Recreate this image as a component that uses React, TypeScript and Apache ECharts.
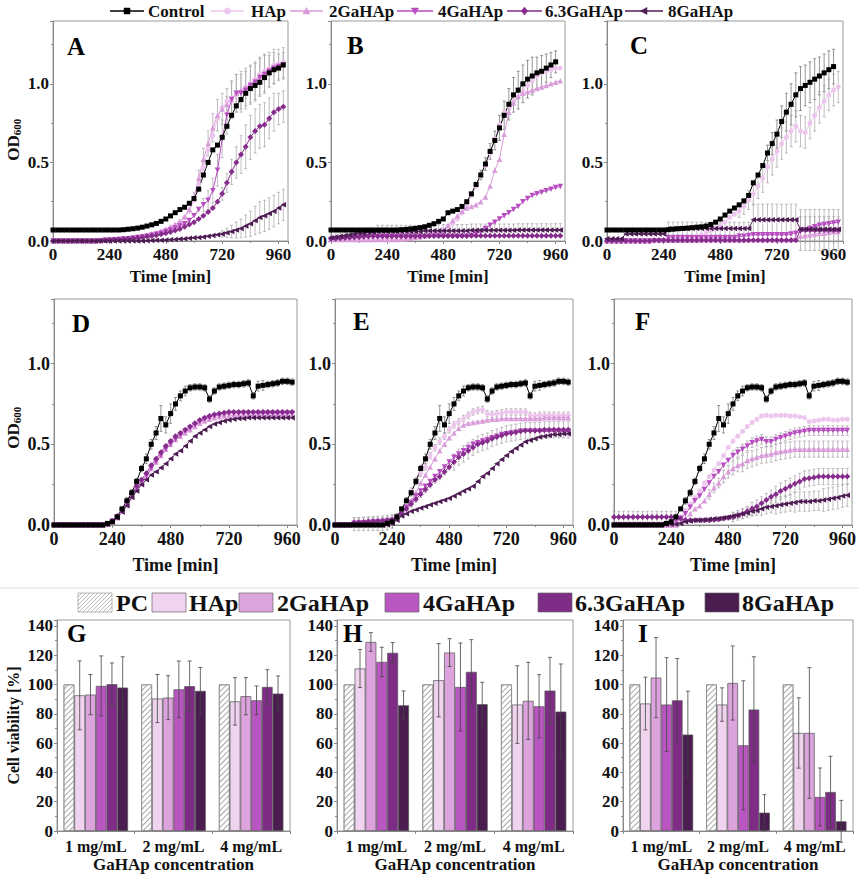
import React, { useEffect, useRef } from "react";
import * as echarts from "echarts";

const FONT = '"Liberation Serif", "Times New Roman", Times, serif';

// ---------------- data ----------------
const times = [0,20,40,60,80,100,120,140,160,180,200,220,240,260,280,300,320,340,360,380,400,420,440,460,480,500,520,540,560,580,600,620,640,660,680,700,720,740,760,780,800,820,840,860,880,900,920,940,960,980];
const timeTicks = [0, 240, 480, 720, 960];
const odTicks = [0, 0.5, 1];
const seriesNames = ["Control", "HAp", "2GaHAp", "4GaHAp", "6.3GaHAp", "8GaHAp"];
const barNames = ["PC", "HAp", "2GaHAp", "4GaHAp", "6.3GaHAp", "8GaHAp"];
const concentrations = ["1 mg/mL", "2 mg/mL", "4 mg/mL"];

// Panel A
const A_ctrl = [0.07,0.07,0.07,0.07,0.07,0.07,0.07,0.07,0.07,0.07, 0.07,0.07,0.07,0.07,0.07,0.072,0.075,0.078,0.082,0.088, 0.095,0.103,0.112,0.125,0.14,0.16,0.18,0.2,0.215,0.24, 0.27,0.33,0.42,0.5,0.58,0.61,0.66,0.73,0.8,0.86, 0.9,0.94,0.97,0.99,1.01,1.04,1.07,1.09,1.1,1.12];
const A_hap = [0,0,0,0,0,0,0,0,0,0, 0.002,0.004,0.006,0.008,0.01,0.012,0.015,0.02,0.025,0.03, 0.035,0.042,0.05,0.06,0.07,0.085,0.1,0.12,0.15,0.19, 0.26,0.36,0.47,0.58,0.67,0.78,0.85,0.89,0.91,0.93, 0.95,0.98,1.0,1.03,1.06,1.08,1.1,1.12,1.13,1.14];
const A_2ga = [0,0,0,0,0,0,0,0,0,0, 0.003,0.005,0.007,0.01,0.012,0.015,0.018,0.022,0.027,0.032, 0.038,0.045,0.053,0.063,0.075,0.09,0.105,0.125,0.155,0.2, 0.28,0.4,0.52,0.62,0.72,0.8,0.84,0.87,0.9,0.94, 0.96,0.98,1.0,1.02,1.05,1.07,1.09,1.11,1.12,1.13];
const A_4ga = [0,0,0,0,0,0,0,0,0,0, 0.002,0.004,0.006,0.008,0.01,0.012,0.015,0.018,0.022,0.026, 0.03,0.036,0.043,0.05,0.06,0.07,0.082,0.095,0.11,0.13, 0.16,0.2,0.23,0.26,0.32,0.45,0.65,0.8,0.9,0.94, 0.94,0.96,0.99,1.01,1.04,1.06,1.08,1.1,1.11,1.12];
const A_63 = [0,0,0,0,0,0,0,0,0,0, 0.002,0.004,0.006,0.008,0.01,0.012,0.014,0.017,0.02,0.024, 0.028,0.032,0.037,0.043,0.05,0.058,0.067,0.077,0.09,0.105, 0.12,0.14,0.16,0.185,0.21,0.25,0.3,0.37,0.44,0.5, 0.55,0.6,0.66,0.7,0.73,0.74,0.78,0.82,0.84,0.855];
const A_8 = [0,0,0,0,0,0,0,0,0,0, 0,0,0,0,0,0,0,0,0,0, 0.002,0.003,0.004,0.005,0.006,0.008,0.01,0.012,0.014,0.017, 0.02,0.022,0.025,0.03,0.035,0.04,0.045,0.052,0.06,0.07, 0.08,0.095,0.11,0.13,0.15,0.16,0.175,0.19,0.21,0.23];
const A_2ga_err = [0,0,0,0,0,0,0,0,0,0, 0,0,0,0,0,0,0,0,0,0, 0,0,0,0,0,0,0,0,0,0, 0.03,0.05,0.07,0.08,0.09,0.1,0.1,0.1,0.11,0.12, 0.12,0.12,0.12,0.12,0.12,0.12,0.11,0.11,0.1,0.1];
const A_4ga_err = [0,0,0,0,0,0,0,0,0,0, 0,0,0,0,0,0,0,0,0,0, 0,0,0,0,0,0,0,0,0,0, 0,0,0.04,0.06,0.08,0.1,0.12,0.12,0.12,0.12, 0.12,0.12,0.12,0.12,0.12,0.12,0.1,0.1,0.08,0.08];
const A_63_err = [0,0,0,0,0,0,0,0,0,0, 0,0,0,0,0,0,0,0,0,0, 0,0,0,0,0,0,0,0,0,0, 0,0,0,0,0,0,0.04,0.06,0.08,0.1, 0.12,0.14,0.14,0.14,0.14,0.14,0.13,0.12,0.1,0.1];
const A_8_err = [0,0,0,0,0,0,0,0,0,0, 0,0,0,0,0,0,0,0,0,0, 0,0,0,0,0,0,0,0,0,0, 0,0,0,0,0,0,0.02,0.03,0.04,0.05, 0.06,0.07,0.08,0.09,0.1,0.1,0.1,0.1,0.1,0.1];

// Panel B
const B_ctrl = [0.07,0.07,0.07,0.07,0.07,0.07,0.07,0.07,0.07,0.07, 0.07,0.07,0.07,0.07,0.07,0.072,0.074,0.077,0.08,0.085, 0.09,0.1,0.11,0.125,0.14,0.18,0.19,0.2,0.22,0.25, 0.3,0.36,0.42,0.49,0.57,0.64,0.72,0.8,0.87,0.93, 0.96,1.0,1.03,1.05,1.07,1.08,1.1,1.12,1.14,null];
const B_hap = [0.01,0.01,0.01,0.01,0.01,0.01,0.01,0.01,0.01,0.01, 0.01,0.01,0.01,0.01,0.01,0.012,0.014,0.016,0.02,0.025, 0.03,0.04,0.05,0.06,0.075,0.09,0.11,0.14,0.18,0.23, 0.29,0.35,0.41,0.48,0.56,0.65,0.74,0.82,0.86,0.89, 0.92,0.95,0.99,1.02,1.05,1.07,1.08,1.09,1.1,1.1];
const B_2ga = [0.01,0.01,0.01,0.01,0.01,0.01,0.01,0.01,0.01,0.01, 0.01,0.01,0.01,0.01,0.01,0.012,0.015,0.018,0.022,0.027, 0.033,0.04,0.048,0.055,0.065,0.1,0.13,0.16,0.19,0.21, 0.22,0.23,0.25,0.28,0.35,0.45,0.52,0.68,0.82,0.88, 0.92,0.94,0.95,0.96,0.97,0.98,0.99,1.0,1.01,1.02];
const B_4ga = [0.01,0.012,0.015,0.018,0.02,0.022,0.024,0.026,0.028,0.03, 0.03,0.03,0.03,0.03,0.03,0.03,0.03,0.03,0.03,0.03, 0.03,0.03,0.03,0.03,0.03,0.03,0.03,0.03,0.03,0.03, 0.035,0.045,0.06,0.08,0.1,0.12,0.14,0.16,0.18,0.2, 0.22,0.25,0.27,0.29,0.3,0.31,0.32,0.33,0.34,0.347];
const B_63 = [0.015,0.016,0.018,0.02,0.022,0.024,0.026,0.028,0.03,0.03, 0.03,0.03,0.03,0.03,0.03,0.03,0.03,0.03,0.03,0.03, 0.032,0.032,0.032,0.032,0.032,0.032,0.032,0.032,0.032,0.032, 0.033,0.033,0.033,0.033,0.033,0.033,0.033,0.033,0.033,0.033, 0.034,0.034,0.034,0.034,0.034,0.034,0.034,0.034,0.034,0.034];
const B_8 = [0.02,0.025,0.03,0.035,0.04,0.045,0.05,0.05,0.055,0.055, 0.06,0.06,0.06,0.06,0.06,0.06,0.06,0.06,0.06,0.06, 0.065,0.065,0.065,0.065,0.065,0.065,0.065,0.065,0.065,0.065, 0.068,0.068,0.068,0.068,0.068,0.068,0.068,0.068,0.068,0.068, 0.07,0.07,0.07,0.07,0.07,0.07,0.07,0.07,0.07,0.07];
const B_ctrl_err = [0,0,0,0,0,0,0,0,0,0, 0,0,0,0,0,0,0,0,0,0, 0,0,0,0,0,0,0,0,0,0, 0,0,0.03,0.04,0.05,0.06,0.08,0.09,0.1,0.11, 0.12,0.12,0.12,0.12,0.1,0.1,0.09,0.08,0.07,0];
const B_8_err = [0.02,0.02,0.02,0.02,0.02,0.02,0.02,0.02,0.02,0.02, 0.04,0.04,0.04,0.04,0.04,0.04,0.04,0.04,0.04,0.04, 0.04,0.04,0.04,0.04,0.04,0.04,0.04,0.04,0.04,0.04, 0.04,0.04,0.04,0.04,0.04,0.04,0.04,0.04,0.04,0.04, 0.04,0.04,0.04,0.04,0.04,0.04,0.04,0.04,0.04,0.04];

// Panel C
const C_ctrl = [0.07,0.07,0.07,0.07,0.07,0.07,0.07,0.07,0.07,0.07, 0.07,0.07,0.07,0.072,0.075,0.078,0.08,0.082,0.085,0.088, 0.09,0.095,0.105,0.12,0.14,0.165,0.19,0.21,0.23,0.255, 0.29,0.37,0.42,0.48,0.56,0.62,0.68,0.76,0.82,0.87, 0.93,0.97,0.99,1.01,1.03,1.05,1.07,1.09,1.11,null];
const C_hap = [0,0,0,0,0,0,0,0,0,0, 0.005,0.006,0.008,0.01,0.012,0.015,0.018,0.022,0.026,0.03, 0.04,0.05,0.065,0.08,0.1,0.12,0.15,0.17,0.19,0.22, 0.26,0.3,0.35,0.4,0.47,0.52,0.57,0.62,0.66,0.7, 0.73,0.7,0.69,0.75,0.8,0.85,0.89,0.93,0.96,0.98];
const C_2ga = [0,0,0,0,0,0,0,0,0,0, 0.005,0.005,0.005,0.005,0.005,0.005,0.005,0.005,0.005,0.005, 0.008,0.008,0.008,0.008,0.008,0.008,0.008,0.008,0.008,0.008, 0.01,0.01,0.01,0.01,0.01,0.01,0.01,0.01,0.01,0.01, 0.02,0.03,0.035,0.04,0.045,0.05,0.05,0.055,0.06,0.06];
const C_4ga = [0,0,0,0,0,0,0,0,0,0, 0,0,0,0.02,0.02,0.02,0.02,0.02,0.02,0.02, 0.02,0.02,0.02,0.02,0.02,0.02,0.02,0.02,0.03,0.03, 0.035,0.04,0.04,0.04,0.04,0.04,0.04,0.04,0.04,0.045, 0.05,0.06,0.07,0.08,0.09,0.1,0.105,0.11,0.115,0.12];
const C_63 = [0,0,0,0,0,0,0,0,0,0, 0.005,0.005,0.005,0.005,0.005,0.005,0.005,0.005,0.005,0.005, 0.005,0.005,0.005,0.005,0.005,0.005,0.005,0.005,0.005,0.005, 0.005,0.005,0.005,0.005,0.005,0.005,0.005,0.005,0.005,0.005, 0.005,0.07,0.07,0.07,0.07,0.07,0.07,0.07,0.07,0.07];
const C_8 = [0.015,0.015,0.015,0.015,0.045,0.045,0.045,0.045,0.045,0.045, 0.045,0.045,0.045,0.08,0.08,0.08,0.08,0.08,0.08,0.08, 0.08,0.08,0.08,0.08,0.08,0.08,0.08,0.08,0.08,0.08, 0.08,0.135,0.135,0.135,0.135,0.135,0.135,0.135,0.135,0.135, 0.135,0.075,0.075,0.075,0.075,0.075,0.075,0.075,0.075,0.075];
const C_ctrl_err = [0,0,0,0,0,0,0,0,0,0, 0,0,0,0,0,0,0,0,0,0, 0,0,0,0,0,0,0,0,0,0, 0,0,0,0,0.05,0.07,0.09,0.1,0.12,0.13, 0.14,0.14,0.13,0.13,0.13,0.12,0.12,0.12,0.11,0];
const C_hap_err = [0,0,0,0,0,0,0,0,0,0, 0,0,0,0,0,0,0,0,0,0, 0,0,0,0,0,0,0,0,0.04,0.05, 0.06,0.07,0.08,0.09,0.1,0.1,0.1,0.1,0.1,0.1, 0.1,0.1,0.1,0.1,0.1,0.1,0.1,0.1,0.1,0.1];
const C_63_err = [0,0,0,0,0,0,0,0,0,0, 0,0,0,0,0,0,0,0,0,0, 0,0,0,0,0,0,0,0,0,0, 0,0,0,0,0,0,0,0,0,0, 0,0.13,0.13,0.13,0.13,0.13,0.13,0.13,0.13,0.13];
const C_8_err = [0,0,0,0,0,0,0,0,0,0, 0,0,0,0.04,0.04,0.04,0.04,0.04,0.04,0.04, 0.04,0.04,0.04,0.04,0.04,0.04,0.04,0.04,0.04,0.04, 0.04,0.1,0.1,0.1,0.1,0.1,0.1,0.1,0.1,0.1, 0.1,0.08,0.08,0.08,0.08,0.08,0.08,0.08,0.08,0.08];

// Panels D, E, F share the same control curve
const ctrlDEF = [0,0,0,0,0,0,0,0,0,0, 0,0.01,0.02,0.05,0.1,0.15,0.2,0.27,0.35,0.41, 0.5,0.57,0.66,0.62,0.69,0.75,0.8,0.83,0.85,0.855, 0.855,0.85,0.78,0.83,0.855,0.86,0.865,0.87,0.87,0.875, 0.88,0.8,0.86,0.865,0.87,0.875,0.88,0.89,0.89,0.885];
const ctrlDEF_err = [0,0,0,0,0,0,0,0,0,0, 0,0,0.01,0.01,0.01,0.02,0.02,0.02,0.02,0.03, 0.03,0.04,0.08,0.05,0.06,0.04,0.03,0.03,0.02,0.02, 0.02,0.02,0.02,0.02,0.02,0.02,0.02,0.02,0.02,0.02, 0.02,0.02,0.03,0.03,0.02,0.02,0.02,0.02,0.02,0.02];

// Panel D
const D_hap = [0,0,0,0,0,0,0,0,0,0, 0,0.005,0.025,0.05,0.09,0.14,0.19,0.23,0.27,0.31, 0.36,0.4,0.44,0.48,0.51,0.54,0.56,0.58,0.6,0.62, 0.64,0.66,0.67,0.68,0.69,0.69,0.695,0.695,0.695,0.695, 0.695,0.695,0.7,0.7,0.7,0.7,0.7,0.7,0.7,0.7];
const D_2ga = [0,0,0,0,0,0,0,0,0,0, 0,0.005,0.02,0.045,0.085,0.13,0.18,0.22,0.26,0.3, 0.35,0.39,0.43,0.47,0.5,0.53,0.55,0.57,0.59,0.61, 0.63,0.645,0.655,0.665,0.67,0.675,0.675,0.68,0.68,0.68, 0.68,0.68,0.68,0.68,0.68,0.68,0.68,0.68,0.68,0.68];
const D_4ga = [0,0,0,0,0,0,0,0,0,0, 0,0.005,0.025,0.05,0.09,0.135,0.185,0.225,0.265,0.305, 0.35,0.39,0.43,0.47,0.5,0.53,0.555,0.58,0.6,0.62, 0.64,0.655,0.665,0.675,0.68,0.685,0.69,0.69,0.69,0.69, 0.69,0.69,0.69,0.69,0.69,0.69,0.69,0.69,0.69,0.69];
const D_63 = [0,0,0,0,0,0,0,0,0,0, 0,0.005,0.025,0.055,0.095,0.145,0.195,0.24,0.28,0.32, 0.37,0.41,0.45,0.49,0.52,0.55,0.57,0.59,0.61,0.63, 0.65,0.665,0.675,0.685,0.69,0.695,0.7,0.7,0.7,0.7, 0.7,0.7,0.7,0.7,0.7,0.7,0.7,0.7,0.7,0.7];
const D_8 = [0,0,0,0,0,0,0,0,0,0, 0,0.005,0.02,0.045,0.08,0.12,0.17,0.21,0.25,0.28, 0.31,0.33,0.355,0.38,0.41,0.44,0.46,0.49,0.52,0.55, 0.57,0.59,0.61,0.625,0.635,0.645,0.65,0.655,0.66,0.66, 0.665,0.665,0.665,0.665,0.665,0.665,0.665,0.665,0.665,0.665];

// Panel E
const E_hap = [0,0,0,0,0.005,0.005,0.005,0.005,0.005,0.005, 0.005,0.01,0.02,0.05,0.09,0.14,0.21,0.27,0.32,0.36, 0.43,0.48,0.52,0.55,0.59,0.62,0.64,0.66,0.68,0.7, 0.71,0.715,0.69,0.685,0.69,0.695,0.7,0.7,0.7,0.7, 0.7,0.68,0.675,0.68,0.68,0.68,0.68,0.68,0.68,0.68];
const E_2ga = [0,0,0,0,0.005,0.005,0.005,0.005,0.005,0.005, 0.005,0.01,0.02,0.04,0.07,0.1,0.15,0.2,0.26,0.31, 0.36,0.41,0.46,0.5,0.54,0.57,0.6,0.62,0.63,0.635, 0.64,0.645,0.65,0.655,0.655,0.66,0.66,0.66,0.66,0.66, 0.66,0.66,0.66,0.66,0.665,0.665,0.665,0.665,0.665,0.665];
const E_4ga = [0,0,0,0,0.01,0.012,0.014,0.016,0.018,0.02, 0.022,0.025,0.03,0.05,0.08,0.11,0.14,0.18,0.21,0.24, 0.27,0.3,0.33,0.36,0.39,0.42,0.44,0.46,0.48,0.5, 0.51,0.52,0.53,0.54,0.55,0.56,0.565,0.57,0.575,0.58, 0.58,0.58,0.58,0.58,0.58,0.58,0.58,0.58,0.58,0.58];
const E_63 = [0,0,0,0,0.015,0.017,0.019,0.021,0.023,0.025, 0.027,0.03,0.033,0.05,0.075,0.1,0.13,0.16,0.19,0.22, 0.25,0.28,0.3,0.33,0.36,0.39,0.42,0.44,0.46,0.48, 0.5,0.51,0.52,0.535,0.545,0.555,0.565,0.57,0.575,0.58, 0.585,0.585,0.585,0.585,0.59,0.59,0.59,0.59,0.59,0.59];
const E_8 = [0,0,0,0,0,0,0,0,0,0, 0,0,0.01,0.03,0.055,0.07,0.085,0.095,0.105,0.115, 0.125,0.135,0.145,0.155,0.165,0.18,0.195,0.21,0.225,0.24, 0.27,0.3,0.32,0.35,0.38,0.405,0.43,0.455,0.475,0.495, 0.515,0.525,0.535,0.545,0.55,0.555,0.56,0.56,0.565,0.565];
const E_hap_err = [0,0,0,0,0.04,0.04,0.04,0.04,0.04,0.04, 0.04,0.04,0.04,0.02,0.02,0.02,0.02,0.02,0.02,0.02, 0.02,0.02,0.02,0.02,0.02,0.02,0.02,0.02,0.02,0.02, 0.02,0.02,0.02,0.02,0.02,0.02,0.02,0.02,0.02,0.02, 0.02,0.02,0.02,0.02,0.02,0.02,0.02,0.02,0.02,0.02];
const E_63_err = [0,0,0,0,0.03,0.03,0.03,0.03,0.03,0.03, 0.03,0.03,0.03,0.02,0.02,0.02,0.02,0.02,0.02,0.02, 0.02,0.02,0.02,0.02,0.02,0.05,0.05,0.05,0.05,0.05, 0.05,0.05,0.05,0.05,0.05,0.05,0.05,0.05,0.05,0.05, 0.05,0.05,0.05,0.05,0.05,0.05,0.05,0.05,0.05,0.05];

// Panel F
const F_hap = [0,0,0,0,0,0,0,0,0,0, 0,0,0.005,0.02,0.05,0.09,0.13,0.17,0.21,0.26, 0.3,0.34,0.38,0.43,0.48,0.52,0.55,0.58,0.61,0.635, 0.655,0.675,0.68,0.675,0.68,0.68,0.68,0.675,0.675,0.67, 0.665,0.64,0.645,0.65,0.655,0.655,0.65,0.65,0.655,0.655];
const F_2ga = [0,0,0,0,0,0,0,0,0,0, 0,0,0,0,0.02,0.04,0.07,0.1,0.12,0.15, 0.19,0.23,0.26,0.3,0.33,0.35,0.37,0.38,0.4,0.41, 0.42,0.43,0.435,0.44,0.45,0.455,0.46,0.465,0.47,0.47, 0.47,0.47,0.47,0.47,0.47,0.47,0.47,0.47,0.47,0.47];
const F_4ga = [0,0,0,0,0,0,0,0,0,0, 0,0,0.005,0.02,0.04,0.07,0.11,0.15,0.18,0.22, 0.26,0.3,0.33,0.37,0.4,0.43,0.45,0.47,0.49,0.51, 0.52,0.53,0.515,0.515,0.53,0.54,0.55,0.56,0.57,0.575, 0.58,0.585,0.585,0.585,0.585,0.585,0.585,0.585,0.585,0.585];
const F_63 = [0.05,0.05,0.05,0.05,0.05,0.05,0.05,0.05,0.05,0.05, 0.05,0.05,0.05,0.05,0.04,0.03,0.03,0.03,0.03,0.03, 0.03,0.032,0.035,0.04,0.045,0.05,0.06,0.07,0.085,0.1, 0.115,0.135,0.155,0.175,0.19,0.21,0.225,0.24,0.255,0.27, 0.285,0.29,0.295,0.3,0.3,0.3,0.3,0.3,0.3,0.3];
const F_8 = [0.005,0.005,0.005,0.005,0.005,0.005,0.005,0.005,0.005,0.005, 0.005,0.005,0.005,0.005,0.01,0.02,0.025,0.03,0.03,0.032, 0.035,0.038,0.04,0.045,0.05,0.055,0.06,0.07,0.075,0.085, 0.09,0.1,0.11,0.115,0.12,0.125,0.13,0.135,0.14,0.145, 0.145,0.145,0.15,0.15,0.155,0.16,0.165,0.17,0.18,0.185];
const F_2ga_err = [0,0,0,0,0,0,0,0,0,0, 0,0,0,0,0,0,0,0,0,0, 0.03,0.03,0.03,0.04,0.04,0.04,0.04,0.05,0.05,0.05, 0.05,0.05,0.05,0.05,0.05,0.05,0.05,0.05,0.05,0.05, 0.05,0.05,0.05,0.05,0.05,0.05,0.05,0.05,0.05,0.05];
const F_4ga_err = [0,0,0,0,0,0,0,0,0,0, 0,0,0,0,0,0,0,0,0,0, 0,0,0,0,0,0.03,0.03,0.03,0.03,0.03, 0.03,0.03,0.03,0.03,0.03,0.03,0.03,0.03,0.03,0.03, 0.03,0.03,0.03,0.03,0.03,0.03,0.03,0.03,0.03,0.03];
const F_63_err = [0.035,0.035,0.035,0.035,0.035,0.035,0.035,0.035,0.035,0.035, 0.035,0.035,0.035,0.035,0.01,0.01,0.01,0.01,0.01,0.01, 0.01,0.01,0.01,0.01,0.01,0.03,0.03,0.03,0.03,0.04, 0.04,0.04,0.04,0.04,0.05,0.05,0.05,0.05,0.05,0.05, 0.05,0.05,0.05,0.05,0.05,0.05,0.05,0.05,0.05,0.05];
const F_8_err = [0,0,0,0,0,0,0,0,0,0, 0,0,0,0,0,0,0,0,0,0, 0,0,0,0,0,0.02,0.02,0.03,0.03,0.03, 0.03,0.04,0.04,0.04,0.05,0.05,0.05,0.05,0.06,0.06, 0.06,0.06,0.06,0.06,0.07,0.07,0.07,0.07,0.07,0.07];

// Cell viability (rows: PC, HAp, 2GaHAp, 4GaHAp, 6.3GaHAp, 8GaHAp; cols: 1, 2, 4 mg/mL)
const G_mean = [[100,100,100],[92.6,90.4,88.5],[93.1,91,92],[99,96.7,89.2],[100.2,98.8,98.3],[97.9,95.6,93.8]];
const G_err = [[0,0,0],[23.5,16.4,16.2],[13.7,15,12.7],[20.5,19.3,9.8],[14.5,17.2,11.8],[21,16,12]];
const H_mean = [[100,100,100],[110.9,102.9,86.3],[129,121.8,88.8],[115.4,98.3,85.1],[121.6,108.6,95.8],[85.8,86.5,81.5]];
const H_err = [[0,0,0],[13,25,26.5],[6.4,9.5,26.3],[10,30,21.6],[7,22,22.7],[9.8,15,32.5]];
const I_mean = [[100,100,100],[87,86.3,66.9],[104.7,101,66.9],[86.3,58.5,23.2],[89.2,82.9,26.6],[65.8,12.5,6.6]];
const I_err = [[0,0,0],[18,11.4,24],[27.3,25.3,44.6],[32,44,19.8],[28.5,36,24.4],[29.6,12.3,14.3]];

// ---------------- styling ----------------
const LINE_COLORS = ["#000000", "#edc6ed", "#d99bd9", "#b84dc0", "#862c8c", "#4c1c52"];
const SYMBOLS = ["rect", "circle", "triangle", "triangle", "diamond", "triangle"];
const SYMBOL_ROT = [0, 0, 0, 180, 0, 90];
const SYMBOL_SIZE = [5, 5, 5.5, 5.5, 6, 5.5];
const BAR_COLORS = ["#ffffff", "#efd3ef", "#dda3dd", "#b956c1", "#7f2c86", "#4b1c50"];
const BAR_GAP = 0.17;

const linePanels = [
  { rect: [53, 21, 235, 220], data: [A_ctrl, A_hap, A_2ga, A_4ga, A_63, A_8], err: [null, null, A_2ga_err, A_4ga_err, A_63_err, A_8_err], letter: "A", lp: [67, 47], fs: 17 },
  { rect: [331, 21, 234, 220], data: [B_ctrl, B_hap, B_2ga, B_4ga, B_63, B_8], err: [B_ctrl_err, null, null, null, null, B_8_err], letter: "B", lp: [347, 46], fs: 17 },
  { rect: [607, 21, 236, 220], data: [C_ctrl, C_hap, C_2ga, C_4ga, C_63, C_8], err: [C_ctrl_err, C_hap_err, null, null, C_63_err, C_8_err], letter: "C", lp: [630, 46], fs: 17 },
  { rect: [54, 299, 243, 226], data: [ctrlDEF, D_hap, D_2ga, D_4ga, D_63, D_8], err: [ctrlDEF_err, null, null, null, null, null], letter: "D", lp: [72, 324], fs: 18 },
  { rect: [335, 299, 238, 226], data: [ctrlDEF, E_hap, E_2ga, E_4ga, E_63, E_8], err: [ctrlDEF_err, E_hap_err, null, null, E_63_err, null], letter: "E", lp: [353, 322], fs: 18 },
  { rect: [614, 299, 239, 226], data: [ctrlDEF, F_hap, F_2ga, F_4ga, F_63, F_8], err: [ctrlDEF_err, null, F_2ga_err, F_4ga_err, F_63_err, F_8_err], letter: "F", lp: [635, 322], fs: 18 },
];

const barPanels = [
  { rect: [57, 620, 233, 211], mean: G_mean, err: G_err, letter: "G", lp: [67, 634] },
  { rect: [337, 620, 236, 211], mean: H_mean, err: H_err, letter: "H", lp: [343, 634] },
  { rect: [623, 620, 230, 211], mean: I_mean, err: I_err, letter: "I", lp: [638, 634] },
];

const AXIS_GRAY = "#8a8a8a";
const TXT = "#111";

function textStyle(size: number) {
  return { fontFamily: FONT, fontWeight: "bold", fontSize: size, color: TXT };
}

function lineErrRender(color: string) {
  return (params: any, api: any) => {
    const t = api.value(0), y = api.value(1), e = api.value(2);
    const top = api.coord([t, y + e]);
    const bot = api.coord([t, y - e]);
    const st = { stroke: color, lineWidth: 0.7 };
    return {
      type: "group",
      children: [
        { type: "line", shape: { x1: top[0], y1: top[1], x2: bot[0], y2: bot[1] }, style: st },
        { type: "line", shape: { x1: top[0] - 1.5, y1: top[1], x2: top[0] + 1.5, y2: top[1] }, style: st },
        { type: "line", shape: { x1: bot[0] - 1.5, y1: bot[1], x2: bot[0] + 1.5, y2: bot[1] }, style: st },
      ],
    };
  };
}

function barErrRender(params: any, api: any) {
  const c = api.value(0), m = api.value(1), e = api.value(2), k = api.value(3);
  const center = api.coord([c, m]);
  const band = api.size([1, 0])[0];
  const groupW = band * (1 - BAR_GAP);
  const bw = groupW / 6;
  const x = center[0] - groupW / 2 + bw * (k + 0.5);
  const top = api.coord([c, m + e])[1];
  const bot = api.coord([c, m - e])[1];
  const st = { stroke: "#444", lineWidth: 0.8 };
  return {
    type: "group",
    children: [
      { type: "line", shape: { x1: x, y1: top, x2: x, y2: bot }, style: st },
      { type: "line", shape: { x1: x - 2, y1: top, x2: x + 2, y2: top }, style: st },
      { type: "line", shape: { x1: x - 2, y1: bot, x2: x + 2, y2: bot }, style: st },
    ],
  };
}

function markerShape(k: number, cx: number, cy: number, color: string) {
  const style = { fill: color, stroke: color, lineWidth: 0.5 };
  if (k === 0) return { type: "rect", shape: { x: cx - 3, y: cy - 3, width: 6, height: 6 }, style };
  if (k === 1) return { type: "circle", shape: { cx, cy, r: 3.2 }, style };
  if (k === 2) return { type: "polygon", shape: { points: [[cx, cy - 3.6], [cx + 3.6, cy + 3], [cx - 3.6, cy + 3]] }, style };
  if (k === 3) return { type: "polygon", shape: { points: [[cx, cy + 3.6], [cx + 3.6, cy - 3], [cx - 3.6, cy - 3]] }, style };
  if (k === 4) return { type: "polygon", shape: { points: [[cx, cy - 4], [cx + 3.2, cy], [cx, cy + 4], [cx - 3.2, cy]] }, style };
  return { type: "polygon", shape: { points: [[cx - 3.6, cy], [cx + 3, cy - 3.6], [cx + 3, cy + 3.6]] }, style };
}

function buildOption() {
  const grid: any[] = [];
  const xAxis: any[] = [];
  const yAxis: any[] = [];
  const series: any[] = [];
  const graphic: any[] = [];

  linePanels.forEach((p, i) => {
    const [left, top, width, height] = p.rect;
    grid.push({ left, top, width, height, show: true, borderColor: "#9a9a9a", borderWidth: 1, backgroundColor: "transparent" });
    xAxis.push({
      type: "value", gridIndex: i, min: 0, max: 1000, interval: 240,
      name: "Time [min]", nameLocation: "middle", nameGap: i < 3 ? 27 : 31,
      nameTextStyle: textStyle(p.fs),
      axisLine: { show: true, lineStyle: { color: AXIS_GRAY } },
      axisTick: { show: true, length: 3, lineStyle: { color: AXIS_GRAY } },
      minorTick: { show: true, splitNumber: 2, length: 2, lineStyle: { color: AXIS_GRAY } },
      splitLine: { show: false },
      axisLabel: { ...textStyle(p.fs), margin: 5, formatter: (v: number) => (timeTicks.includes(v) ? String(v) : "") },
    });
    yAxis.push({
      type: "value", gridIndex: i, min: 0, max: 1.4, interval: 0.5,
      axisLine: { show: true, lineStyle: { color: AXIS_GRAY } },
      axisTick: { show: true, length: 3, lineStyle: { color: AXIS_GRAY } },
      minorTick: { show: true, splitNumber: 2, length: 2, lineStyle: { color: AXIS_GRAY } },
      splitLine: { show: false },
      axisLabel: {
        ...textStyle(p.fs), margin: 4,
        formatter: (v: number) => (odTicks.some((t) => Math.abs(t - v) < 1e-6) ? v.toFixed(1) : ""),
      },
    });
    p.data.forEach((arr: any[], k: number) => {
      const errArr = p.err[k];
      if (errArr) {
        const ed: any[] = [];
        times.forEach((t, j) => {
          if (arr[j] != null && errArr[j] > 0) ed.push([t, arr[j], errArr[j]]);
        });
        series.push({
          type: "custom", name: seriesNames[k] + " err", xAxisIndex: i, yAxisIndex: i,
          data: ed, encode: { x: 0, y: 1 }, z: 1, silent: true,
          renderItem: lineErrRender(k === 0 ? "#6a6a6a" : "#a8a0a8"),
        });
      }
    });
    [1, 2, 3, 4, 5, 0].forEach((k) => {
      const arr = p.data[k] as any[];
      const d: any[] = [];
      times.forEach((t, j) => { if (arr[j] != null) d.push([t, arr[j]]); });
      series.push({
        type: "line", name: seriesNames[k], xAxisIndex: i, yAxisIndex: i, data: d,
        symbol: SYMBOLS[k], symbolRotate: SYMBOL_ROT[k], symbolSize: SYMBOL_SIZE[k],
        showSymbol: true, showAllSymbol: true,
        itemStyle: { color: LINE_COLORS[k], borderWidth: 0 },
        lineStyle: { color: LINE_COLORS[k], width: 1 },
        z: 2, silent: true, emphasis: { disabled: true },
      });
    });
    graphic.push({ type: "text", left: p.lp[0], top: p.lp[1] - 13, style: { text: p.letter, font: `bold 25px ${FONT}`, fill: "#000" } });
  });

  barPanels.forEach((p, b) => {
    const gi = linePanels.length + b;
    const [left, top, width, height] = p.rect;
    grid.push({ left, top, width, height, show: true, borderColor: "#9a9a9a", borderWidth: 1, backgroundColor: "transparent" });
    xAxis.push({
      type: "category", gridIndex: gi, data: concentrations,
      name: "GaHAp concentration", nameLocation: "middle", nameGap: 25,
      nameTextStyle: textStyle(17),
      axisLine: { show: true, lineStyle: { color: AXIS_GRAY } },
      axisTick: { show: true, length: 3, lineStyle: { color: AXIS_GRAY } },
      axisLabel: { ...textStyle(16), margin: 7, interval: 0, hideOverlap: false },
      splitLine: { show: false },
    });
    yAxis.push({
      type: "value", gridIndex: gi, min: 0, max: 144, interval: 20,
      name: b === 0 ? "Cell viability [%]" : "", nameLocation: "middle", nameGap: 36, nameRotate: 90,
      nameTextStyle: textStyle(16),
      axisLine: { show: true, lineStyle: { color: AXIS_GRAY } },
      axisTick: { show: true, length: 3, lineStyle: { color: AXIS_GRAY } },
      minorTick: { show: true, splitNumber: 2, length: 2, lineStyle: { color: AXIS_GRAY } },
      splitLine: { show: false },
      axisLabel: { ...textStyle(17), margin: 4, formatter: (v: number) => (v % 20 === 0 && v <= 140 ? String(v) : "") },
    });
    p.mean.forEach((row, k) => {
      const itemStyle: any = { color: BAR_COLORS[k], borderColor: "#555", borderWidth: 0.7 };
      if (k === 0) {
        itemStyle.borderColor = "#888";
        itemStyle.decal = {
          symbol: "rect", symbolSize: 1, color: "#a6a6a6", backgroundColor: "#ffffff",
          dashArrayX: [1, 0], dashArrayY: [1, 3], rotation: -Math.PI / 4,
        };
      }
      series.push({
        type: "bar", name: barNames[k], xAxisIndex: gi, yAxisIndex: gi, data: row,
        barGap: "0%", barCategoryGap: `${BAR_GAP * 100}%`, itemStyle, z: 2, silent: true,
        emphasis: { disabled: true },
      });
    });
    const ed: any[] = [];
    p.mean.forEach((row, k) => {
      row.forEach((m, c) => {
        const e = p.err[k][c];
        if (e > 0) ed.push([c, m, e, k]);
      });
    });
    series.push({
      type: "custom", name: "viability err", xAxisIndex: gi, yAxisIndex: gi, data: ed,
      encode: { x: 0, y: 1 }, z: 3, silent: true, renderItem: barErrRender,
    });
    graphic.push({ type: "text", left: p.lp[0], top: p.lp[1] - 13, style: { text: p.letter, font: `bold 25px ${FONT}`, fill: "#000" } });
  });

  // OD600 axis titles
  [137, 425].forEach((cy) => {
    graphic.push({ type: "text", x: 13, y: cy + 11, rotation: Math.PI / 2, style: { text: "OD", font: `bold 17px ${FONT}`, fill: TXT, align: "center", verticalAlign: "middle" } });
    graphic.push({ type: "text", x: 17, y: cy - 10, rotation: Math.PI / 2, style: { text: "600", font: `bold 11px ${FONT}`, fill: TXT, align: "center", verticalAlign: "middle" } });
  });

  // top legend (line series)
  const topLegend = [[110, 144, 148], [211, 244, 251], [290, 323, 329], [397, 433, 438], [507, 542, 545], [625, 663, 668]];
  topLegend.forEach(([x1, x2, tx], k) => {
    const c = LINE_COLORS[k];
    graphic.push({ type: "line", shape: { x1, y1: 11, x2, y2: 11 }, style: { stroke: c, lineWidth: 1.3 } });
    graphic.push(markerShape(k, (x1 + x2) / 2, 11, c));
    graphic.push({ type: "text", x: tx, y: 11, style: { text: seriesNames[k], font: `bold 17px ${FONT}`, fill: TXT, align: "left", verticalAlign: "middle" } });
  });

  // separator line
  graphic.push({ type: "line", shape: { x1: 0, y1: 588, x2: 859, y2: 588 }, style: { stroke: "#dddddd", lineWidth: 1 } });

  // bar legend
  const sw = 34, sh = 19, sy = 593;
  const swX = [78, 152, 239, 385, 538, 705];
  const txX = [116, 189, 277, 423, 575, 742];
  barNames.forEach((nm, k) => {
    const x = swX[k];
    graphic.push({ type: "rect", shape: { x, y: sy, width: sw, height: sh }, style: { fill: BAR_COLORS[k], stroke: k === 0 ? "#999" : "#666", lineWidth: 0.7 } });
    if (k === 0) {
      for (let cc = x + sy + 4; cc < x + sw + sy + sh; cc += 4) {
        const xa = Math.max(x, cc - (sy + sh));
        const xb = Math.min(x + sw, cc - sy);
        if (xb > xa) graphic.push({ type: "line", shape: { x1: xa, y1: cc - xa, x2: xb, y2: cc - xb }, style: { stroke: "#a6a6a6", lineWidth: 0.8 } });
      }
    }
    graphic.push({ type: "text", x: txX[k], y: sy + sh / 2, style: { text: nm, font: `bold 24px ${FONT}`, fill: TXT, align: "left", verticalAlign: "middle" } });
  });

  return {
    animation: false,
    backgroundColor: "#ffffff",
    textStyle: { fontFamily: FONT },
    grid, xAxis, yAxis, series, graphic,
  };
}

export default function App() {
  const ref = useRef<HTMLDivElement>(null);
  useEffect(() => {
    if (!ref.current) return;
    const chart = echarts.init(ref.current, null, { renderer: "svg" });
    chart.setOption(buildOption() as any);
    return () => chart.dispose();
  }, []);
  return <div ref={ref} style={{ position: "fixed", left: 0, top: 0, width: 859, height: 878, background: "#fff" }} />;
}
